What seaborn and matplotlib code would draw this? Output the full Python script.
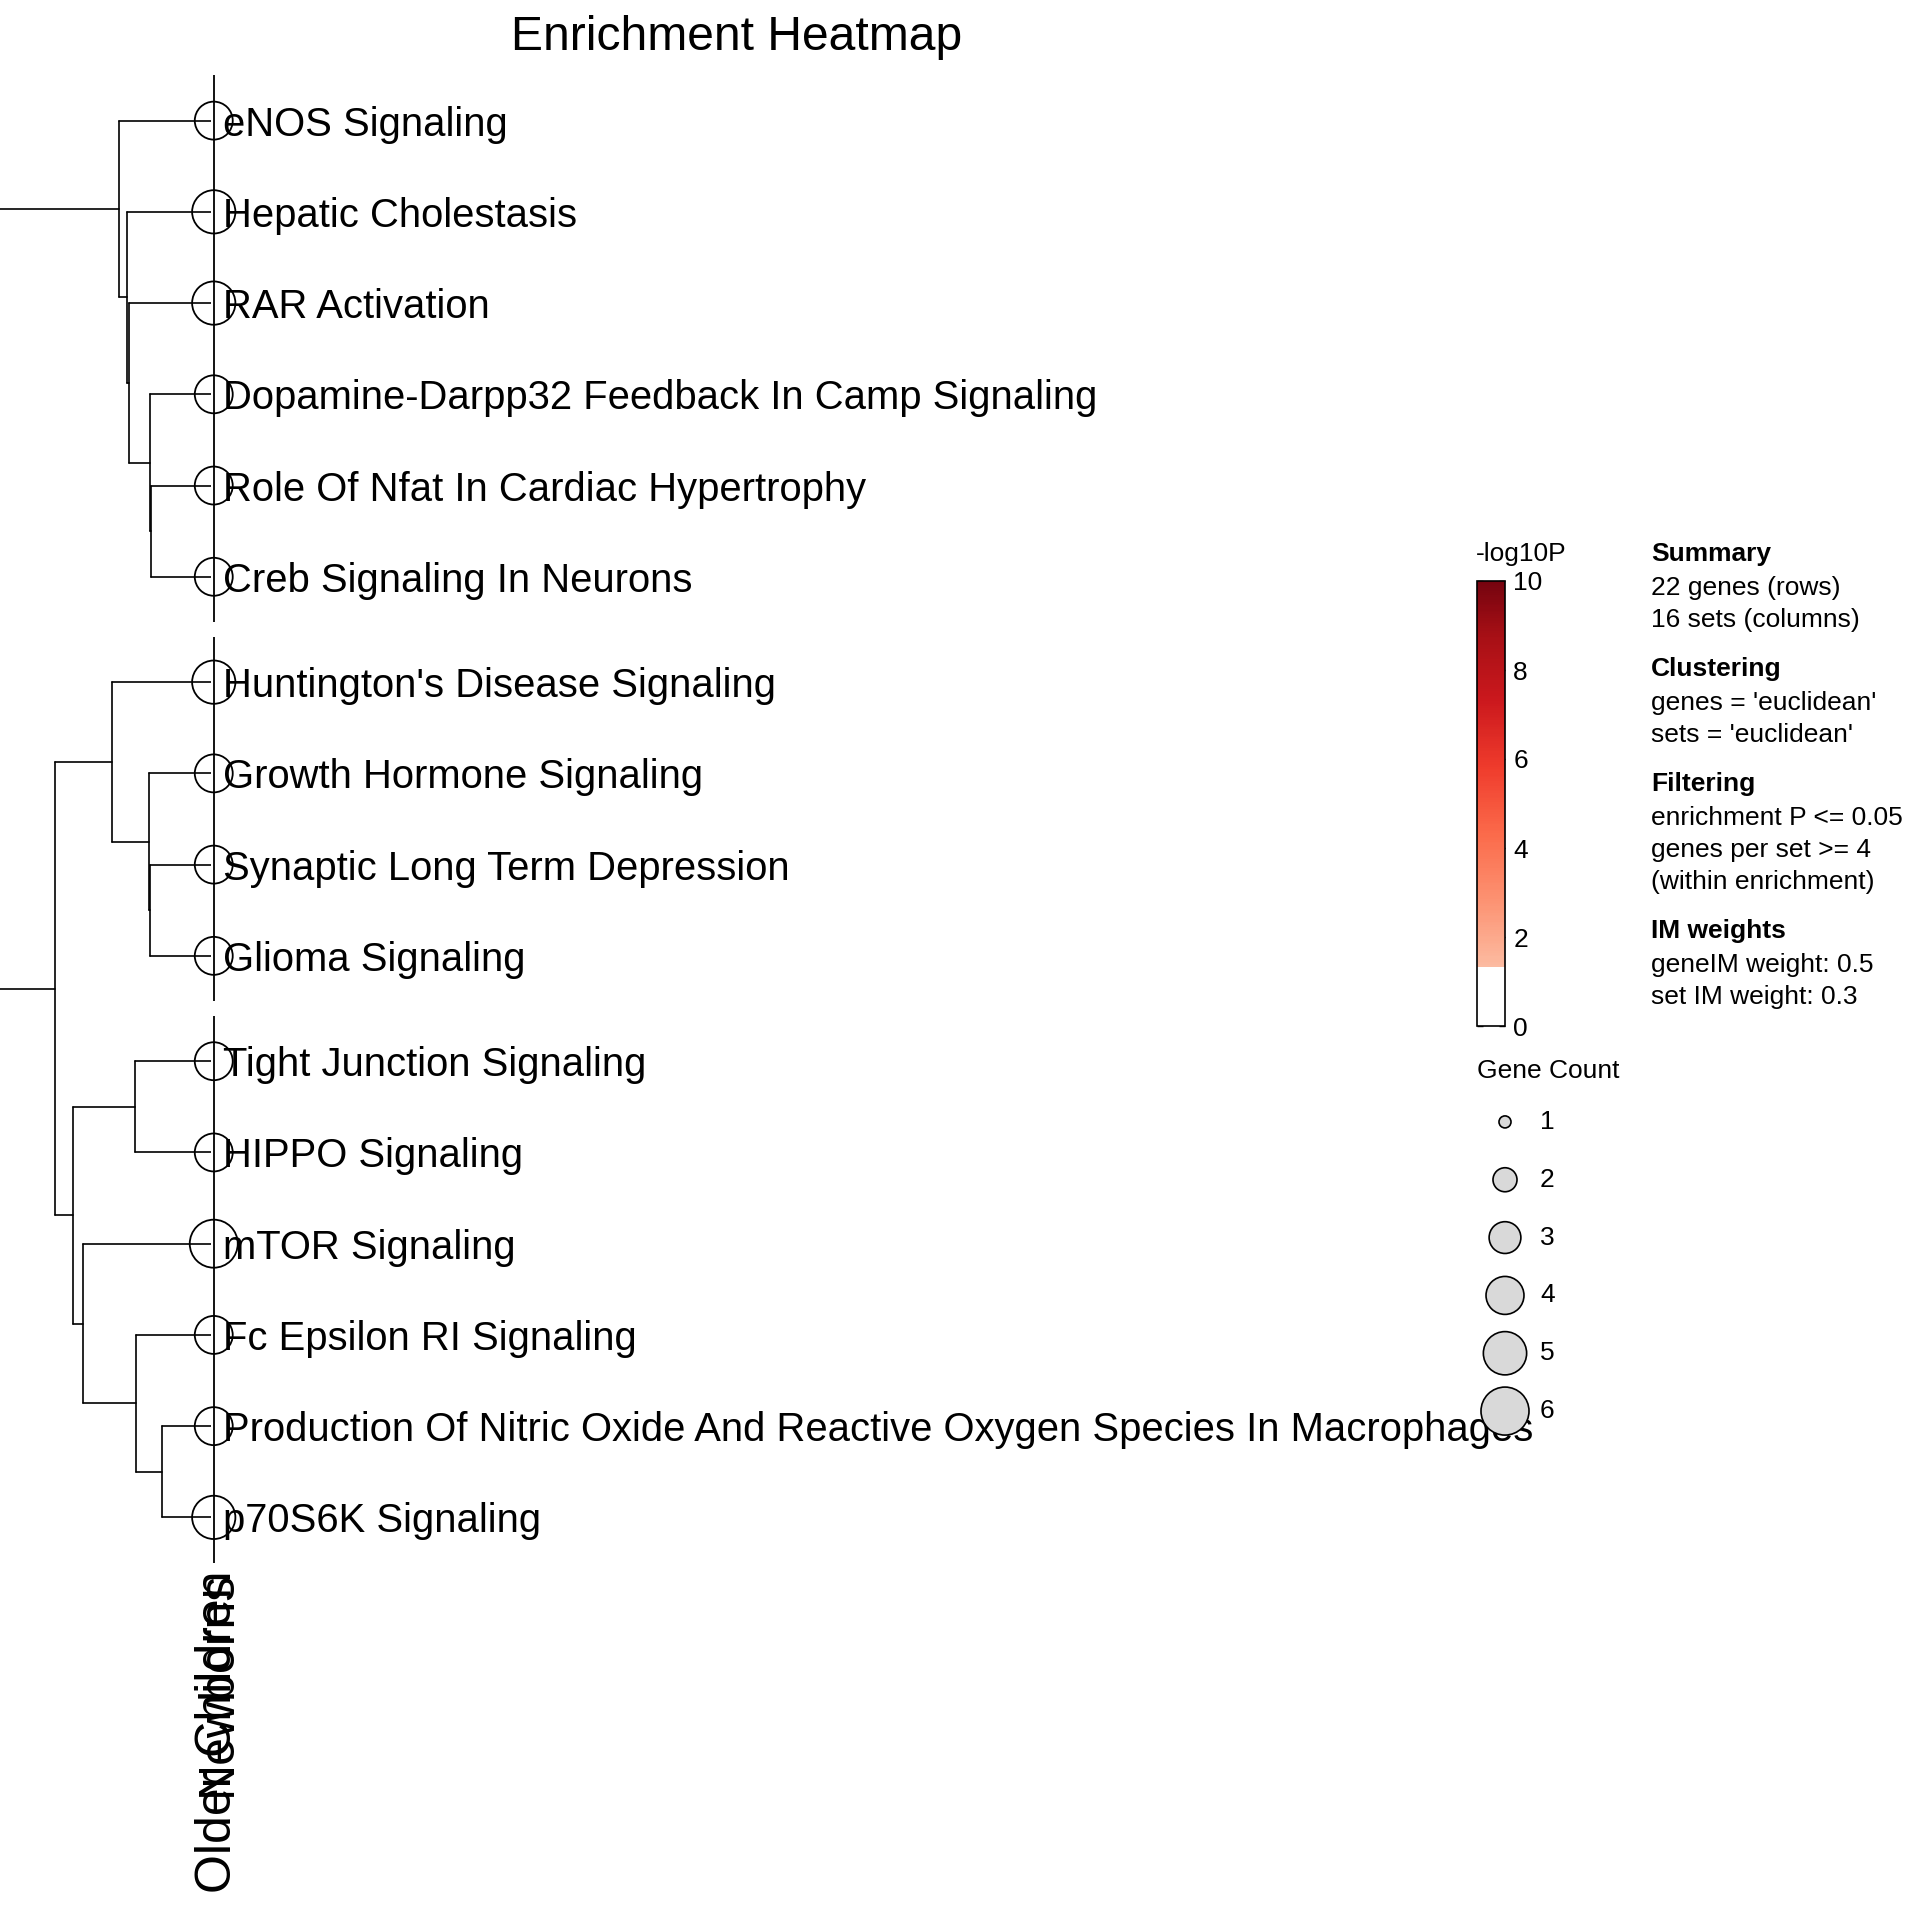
# ============================================
# ENRICHMENT HEATMAP (collapsed single column)
# ============================================

import numpy as np
import pandas as pd
import matplotlib
matplotlib.use("Agg")
import matplotlib.pyplot as plt
import matplotlib.colors as mcolors
import matplotlib.transforms as mtransforms
import seaborn as sns

# ---------------------------
# DATA
# ---------------------------
pathways = [
    "eNOS Signaling",
    "Hepatic Cholestasis",
    "RAR Activation",
    "Dopamine-Darpp32 Feedback In Camp Signaling",
    "Role Of Nfat In Cardiac Hypertrophy",
    "Creb Signaling In Neurons",
    "Huntington's Disease Signaling",
    "Growth Hormone Signaling",
    "Synaptic Long Term Depression",
    "Glioma Signaling",
    "Tight Junction Signaling",
    "HIPPO Signaling",
    "mTOR Signaling",
    "Fc Epsilon RI Signaling",
    "Production Of Nitric Oxide And Reactive Oxygen Species In Macrophages",
    "p70S6K Signaling",
]
row_slice = [0, 0, 0, 0, 0, 0, 1, 1, 1, 1, 2, 2, 2, 2, 2, 2]
gene_count = [4, 5, 5, 4, 4, 4, 5, 4, 4, 4, 4, 4, 6, 4, 4, 5]
column_labels = ["Older Children", "Newborns"]

# row dendrogram, linkage style: leaves 0..15, merged nodes numbered from 16
link_left = [4, 3, 2, 1, 0, 8, 7, 6, 10, 14, 13, 12, 24, 23, 20]
link_right = [5, 16, 17, 18, 19, 9, 21, 22, 11, 15, 25, 26, 27, 28, 29]
link_height = [1.79, 1.84, 2.45, 2.52, 2.75, 1.83, 1.87, 2.97, 2.29, 1.48,
               2.25, 3.82, 4.14, 4.67, 6.80]

cbar_ticks = [0, 2, 4, 6, 8, 10]
p_cutoff = 0.05
legend_counts = [1, 2, 3, 4, 5, 6]

summary_blocks = [
    ("Summary", ["22 genes (rows)", "16 sets (columns)"]),
    ("Clustering", ["genes = 'euclidean'", "sets = 'euclidean'"]),
    ("Filtering", ["enrichment P <= 0.05", "genes per set >= 4", "(within enrichment)"]),
    ("IM weights", ["geneIM weight: 0.5", "set IM weight: 0.3"]),
]

# ---------------------------
# STYLE
# ---------------------------
sns.set_theme(style="white")
plt.rcParams["font.family"] = ["Liberation Sans", "DejaVu Sans"]
plt.rcParams["text.color"] = "black"
plt.rcParams["xtick.color"] = "black"
plt.rcParams["ytick.color"] = "black"
plt.rcParams["axes.labelcolor"] = "black"

W = 1920.0
fig = plt.figure(figsize=(19.2, 19.2), dpi=100)
fig.patch.set_facecolor("white")

gap = 0.155
row_y = [i + s * gap for i, s in enumerate(row_slice)]
y_top = -0.5
y_bot = len(pathways) - 0.5 + gap * max(row_slice)

hm_top, hm_bot = 75, 1563
hm_rect_y = 1 - hm_bot / W
hm_rect_h = (hm_bot - hm_top) / W

# ---------------------------
# HEATMAP BODY (zero width)
# ---------------------------
ax_hm = fig.add_axes([213.5 / W, hm_rect_y, 1.0 / W, hm_rect_h])
ax_hm.patch.set_visible(False)
for sp in ax_hm.spines.values():
    sp.set_visible(False)

df = pd.DataFrame({"col": 0, "y": row_y, "count": gene_count})
sns.scatterplot(data=df, x="col", y="y", size="count", sizes=(75, 1195),
                size_norm=(1, 6), legend=False, ax=ax_hm, clip_on=False,
                zorder=3)
coll = ax_hm.collections[-1]
coll.set_facecolor("none")
coll.set_edgecolor("black")
coll.set_linewidth(1.3)

# slice borders
for s in sorted(set(row_slice)):
    ys = [y for y, k in zip(row_y, row_slice) if k == s]
    ax_hm.vlines(0.5, min(ys) - 0.5, max(ys) + 0.5, color="black", lw=1.3,
                 clip_on=False, zorder=4)

ax_hm.set_xlim(-0.5, len(column_labels) - 0.5)
ax_hm.set_ylim(y_bot, y_top)
ax_hm.set_xlabel("")
ax_hm.set_ylabel("")
ax_hm.set_yticks(row_y)
ax_hm.set_yticklabels(pathways)
ax_hm.yaxis.tick_right()
ax_hm.tick_params(axis="y", length=0, pad=6, labelsize=28.8, labelcolor="black")
ax_hm.set_xticks([])

# column names, rotated and right-justified below the body
col_shift = mtransforms.ScaledTranslation(4 / 100, -8 / 100, fig.dpi_scale_trans)
for j, name in enumerate(column_labels):
    ax_hm.text(j, y_bot, name, rotation=90, ha="center", va="top",
               fontsize=36, transform=ax_hm.transData + col_shift, clip_on=False)

# ---------------------------
# ROW DENDROGRAM
# ---------------------------
ax_den = fig.add_axes([0, hm_rect_y, 211 / W, hm_rect_h])
node_y = list(row_y)
node_h = [0.0] * len(pathways)
for l, r, h in zip(link_left, link_right, link_height):
    node_y.append((node_y[l] + node_y[r]) / 2)
    node_h.append(h)
for l, r, h in zip(link_left, link_right, link_height):
    ax_den.plot([h, h], [node_y[l], node_y[r]], color="black", lw=1.2)
    ax_den.plot([node_h[l], h], [node_y[l], node_y[l]], color="black", lw=1.2)
    ax_den.plot([node_h[r], h], [node_y[r], node_y[r]], color="black", lw=1.2)
ax_den.set_xlim(6.32, 0)
ax_den.set_ylim(y_bot, y_top)
ax_den.axis("off")

# ---------------------------
# TITLE
# ---------------------------
fig.text(737 / W, 1 - 38 / W, "Enrichment Heatmap", ha="center", va="center",
         fontsize=34.6, color="black")

# ---------------------------
# COLOR LEGEND
# ---------------------------
thr = -np.log10(p_cutoff)
reds = plt.get_cmap("Reds")
vals = np.linspace(0, 10, 256)
cols = [(1, 1, 1, 1) if v < thr else reds(0.25 + (v - thr) / (10 - thr) * 0.72)
        for v in vals]
cmap = mcolors.ListedColormap(cols)

ax_cb = fig.add_axes([1477 / W, 1 - 1026 / W, 28 / W, 445 / W])
sm = plt.cm.ScalarMappable(norm=mcolors.Normalize(0, 10), cmap=cmap)
cb = fig.colorbar(sm, cax=ax_cb, ticks=cbar_ticks)
cb.outline.set_linewidth(1.2)
cb.outline.set_edgecolor("black")
ax_cb.tick_params(direction="in", length=4, width=1, color="black",
                  left=True, right=True, labelleft=False, labelright=True,
                  labelsize=19, pad=6, labelcolor="black")
fig.text(1476 / W, 1 - 554 / W, "-log10P", ha="left", va="center", fontsize=19)

# ---------------------------
# SIZE LEGEND
# ---------------------------
fig.text(1477 / W, 1 - 1071 / W, "Gene Count", ha="left", va="center", fontsize=19)
ax_leg = fig.add_axes([1480 / W, 1 - 1440 / W, 50 / W, 347 / W])
leg_df = pd.DataFrame({"x": 0, "y": range(len(legend_counts)), "count": legend_counts})
sns.scatterplot(data=leg_df, x="x", y="y", size="count", sizes=(75, 1195),
                size_norm=(1, 6), color="#d9d9d9", edgecolor="black",
                linewidth=1.2, legend=False, ax=ax_leg, clip_on=False)
ax_leg.set_xlim(-0.5, 0.5)
ax_leg.set_ylim(len(legend_counts) - 0.5, -0.5)
ax_leg.axis("off")
trans = mtransforms.blended_transform_factory(ax_leg.transAxes, ax_leg.transData)
for k, c in enumerate(legend_counts):
    ax_leg.text(1.2, k, str(c), transform=trans, ha="left", va="center", fontsize=19)

# ---------------------------
# SUMMARY TEXT
# ---------------------------
y = 554
for header, lines in summary_blocks:
    fig.text(1651 / W, 1 - y / W, header, ha="left", va="center",
             fontsize=19, fontweight="bold")
    y += 34
    for line in lines:
        fig.text(1651 / W, 1 - y / W, line, ha="left", va="center", fontsize=19)
        y += 32
    y += 17

fig.savefig("out.png", dpi=100)
